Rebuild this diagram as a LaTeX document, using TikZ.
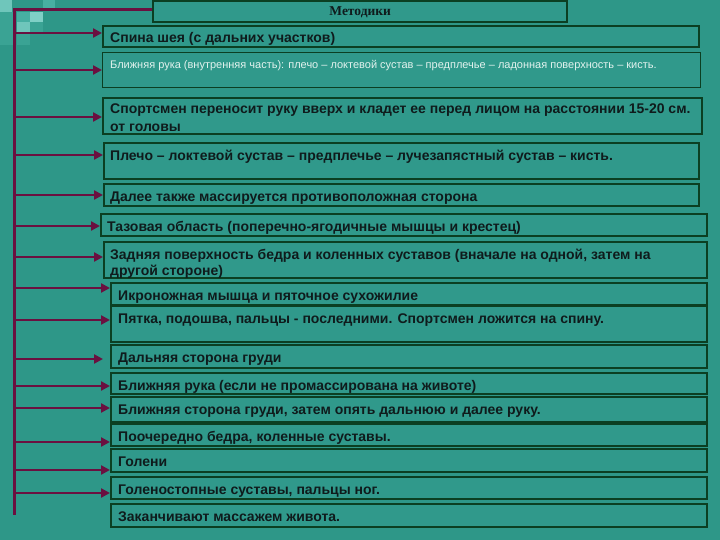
\documentclass[tikz,border=0pt]{standalone}
\usepackage{fontspec}
\setmainfont{Liberation Sans}
\newfontfamily\titlefont{Liberation Serif}
\usetikzlibrary{arrows.meta}
\definecolor{Slide}{HTML}{2E9788}
\definecolor{BoxFill}{HTML}{30998B}
\definecolor{BoxEdge}{HTML}{0B3F22}
\definecolor{Spine}{HTML}{6A1040}
\definecolor{Ink}{HTML}{0F1B1C}
\definecolor{Pale}{HTML}{E2F2EE}
\definecolor{TileA}{HTML}{6FC6BB}
\definecolor{TileB}{HTML}{47AFA2}
\definecolor{TileC}{HTML}{7FD0C6}
\definecolor{TileD}{HTML}{3AA394}
\tikzset{
  flow/.style={-{Triangle[length=9pt,width=9pt]}, draw=Spine, line width=2.8pt},
  spine/.style={draw=Spine, line width=3pt},
  stepbox/.style={draw=BoxEdge, fill=BoxFill, line width=2.4pt, inner sep=0pt, anchor=north west},
  thinbox/.style={stepbox, line width=1.2pt},
  steptext/.style={anchor=north west, inner sep=0pt, text=Ink, align=left,
    font=\bfseries\fontsize{14}{18}\selectfont, execute at begin node={\rule{0pt}{11pt}}},
  smalltext/.style={steptext, text=Pale, font=\fontsize{11}{14}\selectfont},
  titlebox/.style={draw=BoxEdge, fill=BoxFill, line width=2.4pt, inner sep=0pt, anchor=north west},
}

\begin{document}
\begin{tikzpicture}[x=1pt, y=-1pt]
  \useasboundingbox (0,0) rectangle (720,540);
  \fill[Slide] (0,0) rectangle (720,540);

  % corner tiles of the slide template
  \fill[TileD] (0,12) rectangle (13,45);
  \fill[TileA] (0,0) rectangle (12,12);
  \fill[TileB] (43,0) rectangle (55,8);
  \fill[TileB] (17,12) rectangle (30,22);
  \fill[TileC] (30,12) rectangle (43,22);
  \fill[TileA] (17,22) rectangle (30,33);
  \fill[TileD] (30,22) rectangle (43,33);
  \fill[TileD] (17,33) rectangle (30,45);

  % title
  \node[titlebox, minimum width=414pt, minimum height=21pt] (title) at (152,0) {};
  \node[font=\titlefont\bfseries\fontsize{13.5}{15}\selectfont, text=Ink, inner sep=0pt]
    (titletext) at ([yshift=-1pt]title.center) {Методики};

  % steps
  \node[stepbox, minimum width=596pt, minimum height=21pt] (b1) at (102,25) {};
  \node[thinbox, minimum width=598pt, minimum height=35pt] (b2) at (102,52) {};
  \node[stepbox, minimum width=599pt, minimum height=36pt] (b3) at (102,97) {};
  \node[stepbox, minimum width=595pt, minimum height=36pt] (b4) at (103,142) {};
  \node[stepbox, minimum width=595pt, minimum height=22pt] (b5) at (103,183) {};
  \node[stepbox, minimum width=606pt, minimum height=22pt] (b6) at (100,213) {};
  \node[stepbox, minimum width=603pt, minimum height=36pt] (b7) at (103,241) {};
  \node[stepbox, minimum width=596pt, minimum height=22pt] (b8) at (110,282) {};
  \node[stepbox, minimum width=596pt, minimum height=36pt] (b9) at (110,305) {};
  \node[stepbox, minimum width=596pt, minimum height=23pt] (b10) at (110,344) {};
  \node[stepbox, minimum width=596pt, minimum height=21pt] (b11) at (110,372) {};
  \node[stepbox, minimum width=596pt, minimum height=25pt] (b12) at (110,396) {};
  \node[stepbox, minimum width=596pt, minimum height=22pt] (b13) at (110,423) {};
  \node[stepbox, minimum width=596pt, minimum height=23pt] (b14) at (110,448) {};
  \node[stepbox, minimum width=596pt, minimum height=22pt] (b15) at (110,476) {};
  \node[stepbox, minimum width=596pt, minimum height=23pt] (b16) at (110,503) {};

  \node[steptext] (t1) at ([shift={(8pt,-6pt)}]b1.north west) {Спина шея (с дальних участков)};
  \node[smalltext] (t2) at ([shift={(8pt,-5.5pt)}]b2.north west)
    {Ближняя рука (внутренняя часть): плечо – локтевой сустав – предплечье – ладонная поверхность – кисть.};
  \node[steptext] (t3) at ([shift={(8pt,-6.5pt)}]b3.north west)
    {Спортсмен переносит руку вверх и кладет ее перед лицом на расстоянии 15-20 см.\\от головы};
  \node[steptext] (t4) at ([shift={(7pt,-7pt)}]b4.north west)
    {Плечо – локтевой сустав – предплечье – лучезапястный сустав – кисть.};
  \node[steptext] (t5) at ([shift={(7pt,-7.5pt)}]b5.north west)
    {Далее также массируется противоположная сторона};
  \node[steptext] (t6) at ([shift={(7pt,-7.5pt)}]b6.north west)
    {Тазовая область (поперечно-ягодичные мышцы и крестец)};
  \node[steptext, font=\bfseries\fontsize{14}{16.5}\selectfont] (t7) at ([shift={(7pt,-7.5pt)}]b7.north west)
    {Задняя поверхность бедра и коленных суставов (вначале на одной, затем на\\другой стороне)};
  \node[steptext] (t8) at ([shift={(8pt,-7pt)}]b8.north west) {Икроножная мышца и пяточное сухожилие};
  \node[steptext] (t9) at ([shift={(8pt,-7.5pt)}]b9.north west)
    {Пятка, подошва, пальцы - последними. Спортсмен ложится на спину.};
  \node[steptext] (t10) at ([shift={(8pt,-7.5pt)}]b10.north west) {Дальняя сторона груди};
  \node[steptext] (t11) at ([shift={(8pt,-7.5pt)}]b11.north west)
    {Ближняя рука (если не промассирована на животе)};
  \node[steptext] (t12) at ([shift={(8pt,-7pt)}]b12.north west)
    {Ближняя сторона груди, затем опять дальнюю и далее руку.};
  \node[steptext] (t13) at ([shift={(8pt,-7pt)}]b13.north west) {Поочередно бедра, коленные суставы.};
  \node[steptext] (t14) at ([shift={(8pt,-7.5pt)}]b14.north west) {Голени};
  \node[steptext] (t15) at ([shift={(8pt,-7pt)}]b15.north west) {Голеностопные суставы, пальцы ног.};
  \node[steptext] (t16) at ([shift={(8pt,-7.5pt)}]b16.north west) {Заканчивают массажем живота.};

  % spine and branches
  \coordinate (top) at (14,10);
  \coordinate (bottom) at (14,515);
  \draw[spine] (title.west |- top) -- (top) -- (bottom);

  \coordinate (s1) at (14,33);
  \coordinate (s2) at (14,70);
  \coordinate (s3) at (14,117);
  \coordinate (s4) at (14,155);
  \coordinate (s5) at (14,195);
  \coordinate (s6) at (14,226);
  \coordinate (s7) at (14,257);
  \coordinate (s8) at (14,288);
  \coordinate (s9) at (14,320);
  \coordinate (s10) at (14,359);
  \coordinate (s11) at (14,386);
  \coordinate (s12) at (14,408);
  \coordinate (s13) at (14,442);
  \coordinate (s14) at (14,470);
  \coordinate (s15) at (14,493);

  \draw[flow] (s1) -- (s1 -| b1.west);
  \draw[flow] (s2) -- (s2 -| b2.west);
  \draw[flow] (s3) -- (s3 -| b3.west);
  \draw[flow] (s4) -- (s4 -| b4.west);
  \draw[flow] (s5) -- (s5 -| b5.west);
  \draw[flow] (s6) -- (s6 -| b6.west);
  \draw[flow] (s7) -- (s7 -| b7.west);
  \draw[flow] (s8) -- (s8 -| b8.west);
  \draw[flow] (s9) -- (s9 -| b9.west);
  \draw[flow, shorten >=7pt] (s10) -- (s10 -| b10.west);
  \draw[flow] (s11) -- (s11 -| b11.west);
  \draw[flow] (s12) -- (s12 -| b12.west);
  \draw[flow] (s13) -- (s13 -| b13.west);
  \draw[flow] (s14) -- (s14 -| b14.west);
  \draw[flow] (s15) -- (s15 -| b15.west);
\end{tikzpicture}
\end{document}
